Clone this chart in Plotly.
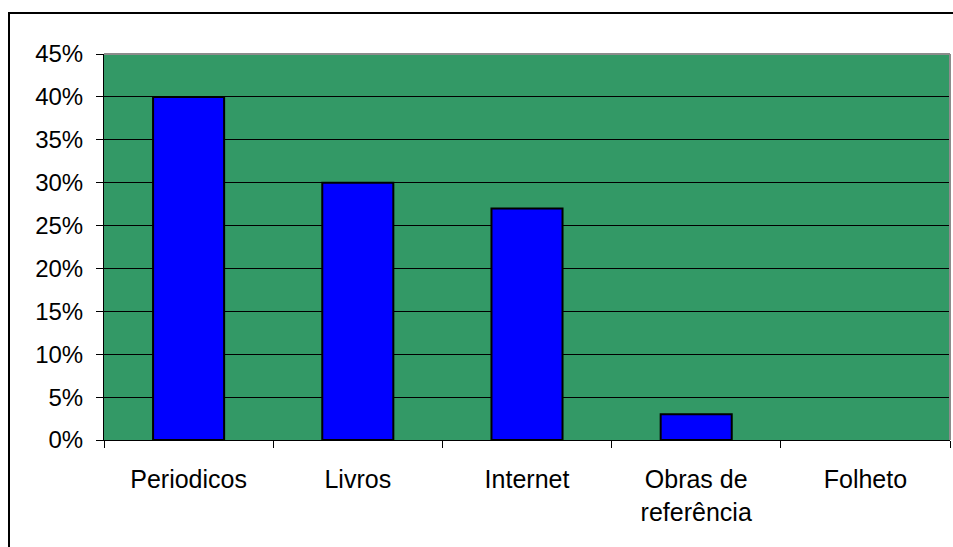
import plotly.graph_objects as go

# Share of sources consulted
categories = ["Periodicos", "Livros", "Internet", "Obras de<br>referência", "Folheto"]
shares = [0.40, 0.30, 0.27, 0.03, 0.0]
y_ticks = [0, 0.05, 0.10, 0.15, 0.20, 0.25, 0.30, 0.35, 0.40, 0.45]

W, H = 953, 547
L, R, T, B = 104, 3, 54, 107
pw, ph = W - L - R, H - T - B

def px_x(x):
    return (x - L) / pw

def px_y(y):
    return (H - B - y) / ph

# no outline on an empty bar
outline_widths = [2 if v > 0 else 0 for v in shares]

fig = go.Figure(
    go.Bar(
        x=categories,
        y=shares,
        marker=dict(color="#0000FF", line=dict(color="#000000", width=outline_widths)),
    )
)

fig.update_layout(
    width=W,
    height=H,
    margin=dict(l=L, r=R, t=T, b=B),
    paper_bgcolor="white",
    plot_bgcolor="#339966",
    bargap=0.58,
    showlegend=False,
    font=dict(family="Liberation Sans, Arial, sans-serif", color="black", size=24),
)

fig.update_yaxes(
    range=[0, 0.45],
    tickvals=y_ticks,
    tickformat=".0%",
    ticks="outside",
    ticklen=7,
    tickcolor="black",
    tickwidth=1,
    showgrid=True,
    gridcolor="black",
    gridwidth=1,
    showline=True,
    linecolor="black",
    linewidth=1,
    zeroline=False,
    ticklabelstandoff=8,
    tickfont=dict(size=24),
)

fig.update_xaxes(
    tickson="boundaries",
    ticks="outside",
    ticklen=7,
    tickcolor="black",
    tickwidth=1,
    showline=True,
    linecolor="black",
    linewidth=1,
    showgrid=False,
    ticklabelstandoff=17,
    tickfont=dict(size=25),
)

# Plot area frame (grey on top and right)
fig.add_shape(type="line", xref="paper", yref="paper", x0=0, x1=1, y0=1, y1=1,
              line=dict(color="#8c8c8c", width=2))
fig.add_shape(type="line", xref="paper", yref="paper", x0=1, x1=1, y0=0, y1=1,
              line=dict(color="#8c8c8c", width=2))

# Chart border
fig.add_shape(type="rect", xref="paper", yref="paper",
              x0=px_x(9), x1=px_x(970), y0=px_y(13), y1=px_y(570),
              line=dict(color="black", width=2), fillcolor="rgba(0,0,0,0)")

fig.write_html("out.html")
